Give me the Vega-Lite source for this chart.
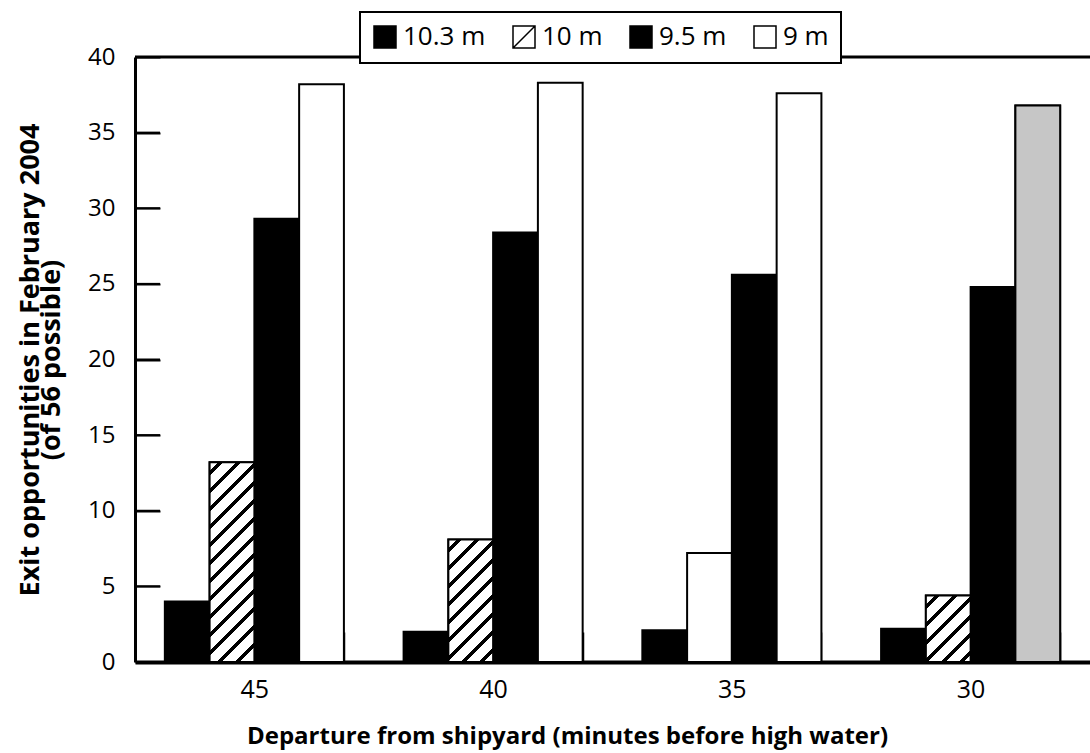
{
  "$schema": "https://vega.github.io/schema/vega-lite/v6.json",
  "width": 955,
  "height": 605,
  "autosize": {"type": "none"},
  "padding": {"left": 135, "top": 57, "right": 0, "bottom": 91},
  "background": "white",
  "config": {
    "font": "Open Sans",
    "view": {"stroke": null},
    "axisX": {
      "labelAngle": 0, "labelFontSize": 25, "labelColor": "black", "labelPadding": 45,
      "ticks": true, "tickBand": "extent", "tickSize": -30, "tickWidth": 1.5, "tickColor": "black",
      "domainWidth": 4, "domainColor": "black",
      "titleFontSize": 24, "titleFontWeight": "bold", "titleColor": "black",
      "titlePadding": 22, "titleX": 432
    },
    "axisY": {
      "ticks": true, "tickSize": -25, "tickWidth": 2, "tickColor": "black",
      "grid": false,
      "domain": true, "domainColor": "black", "domainWidth": 3,
      "labelFontSize": 24, "labelColor": "black", "labelPadding": 45,
      "titleFontSize": 27, "titleFontWeight": "bold", "titleColor": "black",
      "titleLineHeight": 21, "titlePadding": 22
    }
  },
  "data": {
    "values": [
      {"departure": "45", "depth": "10.3 m", "count": 4.0},
      {"departure": "45", "depth": "10 m", "count": 13.2},
      {"departure": "45", "depth": "9.5 m", "count": 29.3},
      {"departure": "45", "depth": "9 m", "count": 38.2},
      {"departure": "40", "depth": "10.3 m", "count": 2.0},
      {"departure": "40", "depth": "10 m", "count": 8.1},
      {"departure": "40", "depth": "9.5 m", "count": 28.4},
      {"departure": "40", "depth": "9 m", "count": 38.3},
      {"departure": "35", "depth": "10.3 m", "count": 2.1},
      {"departure": "35", "depth": "10 m", "count": 7.2},
      {"departure": "35", "depth": "9.5 m", "count": 25.6},
      {"departure": "35", "depth": "9 m", "count": 37.6},
      {"departure": "30", "depth": "10.3 m", "count": 2.2},
      {"departure": "30", "depth": "10 m", "count": 4.4},
      {"departure": "30", "depth": "9.5 m", "count": 24.8},
      {"departure": "30", "depth": "9 m", "count": 36.8}
    ]
  },
  "layer": [
    {
      "mark": {"type": "bar", "stroke": "black", "strokeWidth": 2},
      "encoding": {
        "x": {
          "field": "departure", "type": "nominal", "sort": ["45", "40", "35", "30"],
          "scale": {"paddingInner": 0.25, "paddingOuter": 0.125},
          "axis": {"title": "Departure from shipyard (minutes before high water)"}
        },
        "xOffset": {"field": "depth", "type": "nominal", "sort": ["10.3 m", "10 m", "9.5 m", "9 m"], "scale": {"paddingInner": 0, "paddingOuter": 0}},
        "y": {
          "field": "count", "type": "quantitative",
          "scale": {"domain": [0, 40], "nice": false},
          "axis": {
            "title": ["Exit opportunities in February 2004", "(of 56 possible)"],
            "values": [0, 5, 10, 15, 20, 25, 30, 35, 40]
          }
        },
        "fill": {
          "field": "depth", "type": "nominal",
          "scale": {"domain": ["10.3 m", "10 m", "9.5 m", "9 m"], "range": ["black", "white", "black", "white"]},
          "legend": {
            "title": null, "orient": "none", "legendX": 225, "legendY": -45,
            "direction": "horizontal", "fillColor": "white", "strokeColor": "black",
            "padding": 12, "symbolType": "square", "symbolSize": 484,
            "symbolStrokeColor": "black", "symbolStrokeWidth": 1.5, "symbolOpacity": 1,
            "labelFontSize": 26, "labelColor": "black", "labelOffset": 5, "columnPadding": 24,
            "labelFont": "Open Sans",
            "encode": {
              "legend": {"update": {"strokeWidth": {"value": 2}}},
              "symbols": {"update": {"shape": {"signal": "datum.value === '10 m' ? 'M-1,-1H1V1H-1Z M-1,1L1,-1' : 'square'"}}}
            }
          }
        }
      }
    },
    {
      "transform": [{"filter": "datum.departure == '45' && datum.depth == '10 m'"}],
      "mark": {
        "type": "bar", "stroke": "black", "strokeWidth": 2,
        "fill": {
          "gradient": "linear", "x1": 0, "y1": 0, "x2": 0.2616, "y2": 1.1657,
          "stops": [
            {"offset": 0, "color": "white"},
            {"offset": 0.0368, "color": "white"}, {"offset": 0.0368, "color": "black"}, {"offset": 0.0573, "color": "black"}, {"offset": 0.0573, "color": "white"},
            {"offset": 0.1105, "color": "white"}, {"offset": 0.1105, "color": "black"}, {"offset": 0.1309, "color": "black"}, {"offset": 0.1309, "color": "white"},
            {"offset": 0.1841, "color": "white"}, {"offset": 0.1841, "color": "black"}, {"offset": 0.2045, "color": "black"}, {"offset": 0.2045, "color": "white"},
            {"offset": 0.2577, "color": "white"}, {"offset": 0.2577, "color": "black"}, {"offset": 0.2782, "color": "black"}, {"offset": 0.2782, "color": "white"},
            {"offset": 0.3314, "color": "white"}, {"offset": 0.3314, "color": "black"}, {"offset": 0.3518, "color": "black"}, {"offset": 0.3518, "color": "white"},
            {"offset": 0.4050, "color": "white"}, {"offset": 0.4050, "color": "black"}, {"offset": 0.4254, "color": "black"}, {"offset": 0.4254, "color": "white"},
            {"offset": 0.4786, "color": "white"}, {"offset": 0.4786, "color": "black"}, {"offset": 0.4991, "color": "black"}, {"offset": 0.4991, "color": "white"},
            {"offset": 0.5523, "color": "white"}, {"offset": 0.5523, "color": "black"}, {"offset": 0.5727, "color": "black"}, {"offset": 0.5727, "color": "white"},
            {"offset": 0.6259, "color": "white"}, {"offset": 0.6259, "color": "black"}, {"offset": 0.6463, "color": "black"}, {"offset": 0.6463, "color": "white"},
            {"offset": 0.6995, "color": "white"}, {"offset": 0.6995, "color": "black"}, {"offset": 0.7200, "color": "black"}, {"offset": 0.7200, "color": "white"},
            {"offset": 0.7732, "color": "white"}, {"offset": 0.7732, "color": "black"}, {"offset": 0.7936, "color": "black"}, {"offset": 0.7936, "color": "white"},
            {"offset": 0.8468, "color": "white"}, {"offset": 0.8468, "color": "black"}, {"offset": 0.8672, "color": "black"}, {"offset": 0.8672, "color": "white"},
            {"offset": 0.9204, "color": "white"}, {"offset": 0.9204, "color": "black"}, {"offset": 0.9409, "color": "black"}, {"offset": 0.9409, "color": "white"},
            {"offset": 1, "color": "white"}
          ]
        }
      },
      "encoding": {
        "x": {"field": "departure", "type": "nominal", "sort": ["45", "40", "35", "30"]},
        "xOffset": {"field": "depth", "type": "nominal", "sort": ["10.3 m", "10 m", "9.5 m", "9 m"]},
        "y": {"field": "count", "type": "quantitative"}
      }
    },
    {
      "transform": [{"filter": "datum.departure == '40' && datum.depth == '10 m'"}],
      "mark": {
        "type": "bar", "stroke": "black", "strokeWidth": 2,
        "fill": {
          "gradient": "linear", "x1": 0, "y1": 0, "x2": 0.4405, "y2": 1.2047,
          "stops": [
            {"offset": 0, "color": "white"},
            {"offset": 0.0538, "color": "white"}, {"offset": 0.0538, "color": "black"}, {"offset": 0.0837, "color": "black"}, {"offset": 0.0837, "color": "white"},
            {"offset": 0.1614, "color": "white"}, {"offset": 0.1614, "color": "black"}, {"offset": 0.1913, "color": "black"}, {"offset": 0.1913, "color": "white"},
            {"offset": 0.2690, "color": "white"}, {"offset": 0.2690, "color": "black"}, {"offset": 0.2989, "color": "black"}, {"offset": 0.2989, "color": "white"},
            {"offset": 0.3766, "color": "white"}, {"offset": 0.3766, "color": "black"}, {"offset": 0.4065, "color": "black"}, {"offset": 0.4065, "color": "white"},
            {"offset": 0.4842, "color": "white"}, {"offset": 0.4842, "color": "black"}, {"offset": 0.5140, "color": "black"}, {"offset": 0.5140, "color": "white"},
            {"offset": 0.5918, "color": "white"}, {"offset": 0.5918, "color": "black"}, {"offset": 0.6216, "color": "black"}, {"offset": 0.6216, "color": "white"},
            {"offset": 0.6993, "color": "white"}, {"offset": 0.6993, "color": "black"}, {"offset": 0.7292, "color": "black"}, {"offset": 0.7292, "color": "white"},
            {"offset": 0.8069, "color": "white"}, {"offset": 0.8069, "color": "black"}, {"offset": 0.8368, "color": "black"}, {"offset": 0.8368, "color": "white"},
            {"offset": 0.9145, "color": "white"}, {"offset": 0.9145, "color": "black"}, {"offset": 0.9444, "color": "black"}, {"offset": 0.9444, "color": "white"},
            {"offset": 1, "color": "white"}
          ]
        }
      },
      "encoding": {
        "x": {"field": "departure", "type": "nominal", "sort": ["45", "40", "35", "30"]},
        "xOffset": {"field": "depth", "type": "nominal", "sort": ["10.3 m", "10 m", "9.5 m", "9 m"]},
        "y": {"field": "count", "type": "quantitative"}
      }
    },
    {
      "transform": [{"filter": "datum.departure == '30' && datum.depth == '10 m'"}],
      "mark": {
        "type": "bar", "stroke": "black", "strokeWidth": 2,
        "fill": {
          "gradient": "linear", "x1": 0, "y1": 0, "x2": 0.7751, "y2": 1.1514,
          "stops": [
            {"offset": 0, "color": "white"},
            {"offset": 0.0808, "color": "white"}, {"offset": 0.0808, "color": "black"}, {"offset": 0.1257, "color": "black"}, {"offset": 0.1257, "color": "white"},
            {"offset": 0.2425, "color": "white"}, {"offset": 0.2425, "color": "black"}, {"offset": 0.2874, "color": "black"}, {"offset": 0.2874, "color": "white"},
            {"offset": 0.4041, "color": "white"}, {"offset": 0.4041, "color": "black"}, {"offset": 0.4490, "color": "black"}, {"offset": 0.4490, "color": "white"},
            {"offset": 0.5658, "color": "white"}, {"offset": 0.5658, "color": "black"}, {"offset": 0.6107, "color": "black"}, {"offset": 0.6107, "color": "white"},
            {"offset": 0.7274, "color": "white"}, {"offset": 0.7274, "color": "black"}, {"offset": 0.7723, "color": "black"}, {"offset": 0.7723, "color": "white"},
            {"offset": 0.8891, "color": "white"}, {"offset": 0.8891, "color": "black"}, {"offset": 0.9340, "color": "black"}, {"offset": 0.9340, "color": "white"},
            {"offset": 1, "color": "white"}
          ]
        }
      },
      "encoding": {
        "x": {"field": "departure", "type": "nominal", "sort": ["45", "40", "35", "30"]},
        "xOffset": {"field": "depth", "type": "nominal", "sort": ["10.3 m", "10 m", "9.5 m", "9 m"]},
        "y": {"field": "count", "type": "quantitative"}
      }
    },
    {
      "transform": [{"filter": "datum.departure == '30' && datum.depth == '9 m'"}],
      "mark": {"type": "bar", "stroke": "black", "strokeWidth": 2, "fill": "#c6c6c6"},
      "encoding": {
        "x": {"field": "departure", "type": "nominal", "sort": ["45", "40", "35", "30"]},
        "xOffset": {"field": "depth", "type": "nominal", "sort": ["10.3 m", "10 m", "9.5 m", "9 m"]},
        "y": {"field": "count", "type": "quantitative"}
      }
    },
    {
      "data": {"values": [{"tick": 5}, {"tick": 10}, {"tick": 15}, {"tick": 20}, {"tick": 25}, {"tick": 30}, {"tick": 35}]},
      "mark": {"type": "rule", "stroke": "black", "strokeWidth": 2, "strokeDash": [25, 930], "strokeDashOffset": 25},
      "encoding": {"y": {"field": "tick", "type": "quantitative"}}
    },
    {
      "data": {"values": [{"top": 40}]},
      "mark": {"type": "rule", "stroke": "black", "strokeWidth": 3},
      "encoding": {"y": {"field": "top", "type": "quantitative"}}
    }
  ]
}
